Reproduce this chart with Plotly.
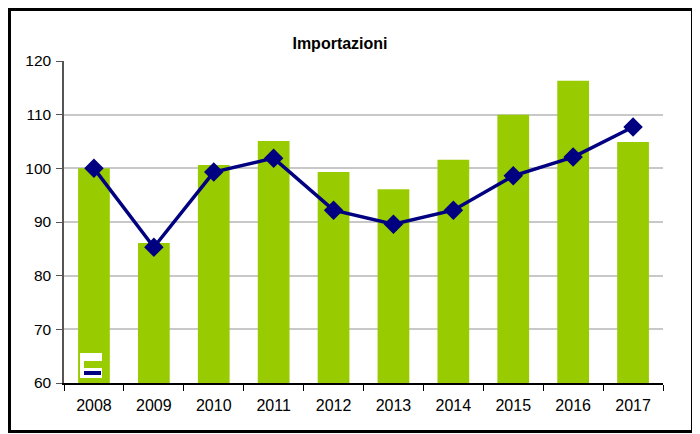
import plotly.graph_objects as go

# Data
years = ["2008", "2009", "2010", "2011", "2012", "2013", "2014", "2015", "2016", "2017"]
bar_values = [100.0, 86.1, 100.6, 105.1, 99.3, 96.1, 101.6, 110.0, 116.3, 104.9]
line_values = [100.0, 85.3, 99.3, 101.9, 92.2, 89.6, 92.2, 98.6, 102.1, 107.7]
y_ticks = [60, 70, 80, 90, 100, 110, 120]

# the page body has an 8px margin, so the figure is 8px smaller on each axis
OFF = 8
W, H = 700 - OFF, 434 - OFF
L, R, T, B = 64 - OFF, 37, 61 - OFF, 51
pw, ph = W - L - R, H - T - B


def px(x):
    # page pixel -> paper x
    return (x - OFF - L) / pw


def py(y):
    # page pixel -> paper y
    return (H - B - (y - OFF)) / ph


fig = go.Figure()

fig.add_trace(go.Bar(
    x=years, y=bar_values,
    marker=dict(color="#99CC00", line=dict(width=0)),
    hoverinfo="x+y", name="Importazioni",
))

fig.add_trace(go.Scatter(
    x=years, y=line_values,
    mode="lines+markers",
    line=dict(color="#000080", width=3.5),
    marker=dict(symbol="diamond", size=15, color="#000080"),
    name="Indice",
))

shapes = [
    # outer frame
    dict(type="rect", xref="paper", yref="paper",
         x0=px(9.5), x1=px(692.5), y0=py(9.5), y1=py(431.5),
         line=dict(color="black", width=3), fillcolor="rgba(0,0,0,0)", layer="above"),
    # small legend icon bottom-left
    dict(type="rect", xref="paper", yref="paper",
         x0=px(80), x1=px(102), y0=py(378), y1=py(353),
         line=dict(width=0), fillcolor="white", layer="above"),
    dict(type="rect", xref="paper", yref="paper",
         x0=px(84), x1=px(102), y0=py(368), y1=py(361),
         line=dict(width=0), fillcolor="#99CC00", layer="above"),
    dict(type="rect", xref="paper", yref="paper",
         x0=px(84), x1=px(101), y0=py(375), y1=py(371),
         line=dict(width=0), fillcolor="#000080", layer="above"),
]

fig.update_layout(
    width=W, height=H,
    margin=dict(l=L, r=R, t=T, b=B),
    paper_bgcolor="white", plot_bgcolor="white",
    font=dict(family="Liberation Sans, Arial, sans-serif", size=15, color="black"),
    title=dict(text="<b>Importazioni</b>", x=(340 - OFF) / W, xanchor="center",
               y=1 - (43 - OFF) / H, yanchor="middle", font=dict(size=16)),
    showlegend=False,
    bargap=0.47,
    shapes=shapes,
)

fig.update_xaxes(
    type="category", range=[-0.5, len(years) - 0.5],
    showline=True, linecolor="black", linewidth=1.5,
    ticks="outside", tickson="boundaries", ticklen=6, tickcolor="black",
    ticklabelstandoff=7, tickfont=dict(size=16),
    showgrid=False,
)

fig.update_yaxes(
    range=[60, 120], tickvals=y_ticks,
    showline=True, linecolor="#555555", linewidth=1.5,
    ticks="outside", ticklen=6, tickcolor="#555555",
    ticklabelstandoff=2, tickfont=dict(size=15.5),
    showgrid=True, gridcolor="#c8c8c8", gridwidth=1.5,
    zeroline=False,
)

fig.write_html("out.html")
